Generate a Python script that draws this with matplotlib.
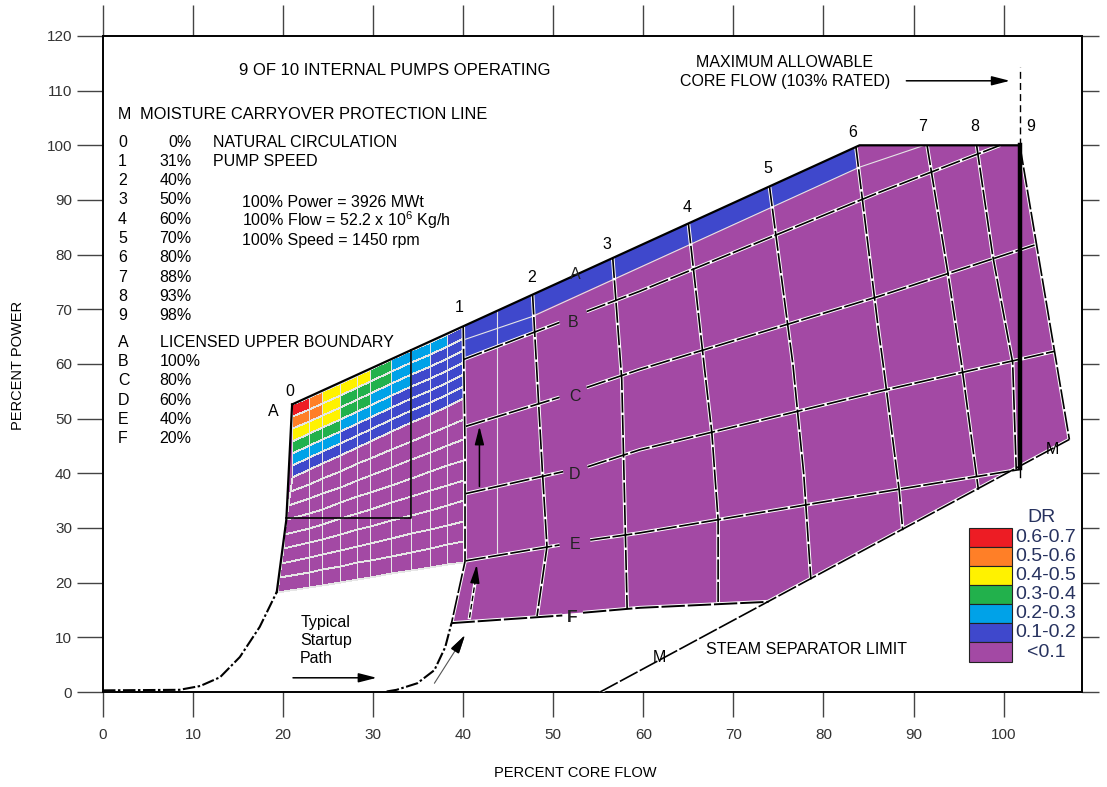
import numpy as np
import matplotlib.pyplot as plt
from matplotlib.colors import ListedColormap, BoundaryNorm
from matplotlib.patches import Polygon, Rectangle

plt.rcParams['font.family'] = ['Liberation Sans', 'DejaVu Sans']
plt.rcParams['mathtext.fontset'] = 'custom'
plt.rcParams['mathtext.rm'] = 'Liberation Sans'

# DR classes, lowest first
dr_labels = ['<0.1', '0.1-0.2', '0.2-0.3', '0.3-0.4', '0.4-0.5', '0.5-0.6', '0.6-0.7']
dr_colors = ['#A349A4', '#3F48CC', '#00A2E8', '#22B14C', '#FFF200', '#FF7F27', '#ED1C24']

# all lines in (percent core flow, percent power)
a_x = [21.0, 84.0, 101.8]            # licensed upper boundary + 100% power
a_y = [52.6, 100.0, 100.0]
e_x = [19.3, 101.8]                  # rod line E (also bottom of low flow block)
e_y = [18.3, 40.4]

region_x = [21.0, 84.0, 101.8, 107.3, 73.9, 59.6, 38.7, 40.2, 19.3, 20.36]
region_y = [52.6, 100.0, 100.0, 46.2, 16.5, 15.4, 12.6, 23.9, 18.3, 31.5]

# low flow grid (natural circulation .. pump line 1)
cell_x = [21.0, 22.9, 24.3, 26.3, 28.2, 29.6, 32.0, 34.2, 36.3, 38.2, 40.0]
dr_top = np.array([
    [6, 5, 4, 4, 4, 3, 2, 2, 2, 1],
    [5, 5, 4, 3, 3, 3, 2, 2, 1, 1],
    [4, 4, 4, 3, 3, 2, 2, 1, 1, 1],
    [3, 3, 3, 2, 2, 2, 1, 1, 1, 1],
    [2, 2, 2, 1, 1, 1, 1, 1, 1, 1],
    [1, 1, 1, 1, 1, 1, 1, 1, 1, 1],
])
dr_low = np.zeros((8, 10), dtype=int)

# DR 0.1-0.2 band along the upper boundary (pump lines 1 to 6)
band_x = [40.0, 83.6, 83.6, 47.7, 47.7, 40.0]
band_y = [66.9, 99.7, 95.7, 68.9, 65.9, 60.8]
band_line_x = [40.2, 47.7, 84.0, 91.2]
band_line_y = [64.5, 68.7, 96.0, 100.0]

# pump speed lines
pump_lines = [
    ([40.0, 40.2, 40.2, 38.7], [66.9, 45.0, 23.9, 12.6]),
    ([47.7, 48.8, 49.3, 48.2], [72.7, 40.1, 26.6, 13.9]),
    ([56.6, 57.6, 58.2], [79.4, 57.2, 15.2]),
    ([65.0, 66.8, 67.6, 68.3, 68.3], [85.7, 59.0, 47.5, 31.5, 16.3]),
    ([74.0, 76.6, 77.8, 78.6], [92.5, 60.0, 40.0, 20.6]),
    ([83.6, 86.1, 86.7, 88.4, 88.8], [99.7, 66.3, 59.0, 37.0, 29.6]),
    ([91.5, 93.8, 95.3, 97.2], [100.0, 76.8, 60.3, 37.0]),
    ([97.0, 98.8, 101.0, 101.4], [100.0, 79.7, 60.3, 40.7]),
]
pump_ids = ['0', '1', '2', '3', '4', '5', '6', '7', '8', '9']
pump_speeds = ['0%', '31%', '40%', '50%', '60%', '70%', '80%', '88%', '93%', '98%']
pump_label_x = [20.75, 39.6, 47.6, 55.9, 64.9, 73.8, 83.2, 91.0, 96.8, 102.5]
pump_label_y = [55.0, 70.4, 75.9, 81.9, 88.7, 95.8, 102.4, 103.5, 103.5, 103.5]
line9_x = 101.8
line9_y = [41.0, 100.0]

# rod lines (nan = gap for the label)
nan = np.nan
rod_lines = {
    'B': ([40.0, 50.7, nan, 53.7, 59.6, 86.2, 99.6], [60.8, 67.6, nan, 69.6, 73.3, 91.4, 100.0]),
    'C': ([40.3, 50.7, nan, 53.7, 59.6, 86.2, 103.7], [48.6, 53.9, nan, 55.7, 59.0, 72.4, 81.9]),
    'D': ([40.3, 51.1, nan, 53.8, 59.6, 86.2, 105.6], [36.3, 40.3, nan, 41.2, 44.3, 55.0, 62.3]),
    'E': ([40.3, 50.7, nan, 54.1, 59.6, 86.2, 101.8], [24.0, 26.9, nan, 27.8, 29.1, 36.5, 40.7]),
    'F': ([38.7, 51.0, nan, 53.3, 59.6, 73.9], [12.6, 14.0, nan, 14.5, 15.4, 16.5]),
}
rod_ids = ['A', 'B', 'C', 'D', 'E', 'F']
rod_desc = ['LICENSED UPPER BOUNDARY', '100%', '80%', '60%', '40%', '20%']
rod_label_x = [52.4, 52.2, 52.4, 52.4, 52.4, 52.1]
rod_label_y = [76.4, 67.6, 54.0, 39.8, 26.9, 13.6]

m_x = [55.2, 107.3]                  # moisture carryover / steam separator limit
m_y = [0.0, 46.2]
right_edge_x = [101.8, 107.3]
right_edge_y = [100.0, 46.2]
left_edge_x = [19.3, 20.36, 21.0]
left_edge_y = [18.3, 31.5, 52.6]
block_x = [20.36, 34.2, 34.2]
block_y = [31.9, 31.9, 62.5]

startup1_x = [0.0, 8.5, 10.8, 13.0, 15.2, 17.4, 19.3]
startup1_y = [0.3, 0.4, 1.1, 2.7, 6.4, 11.9, 18.3]
startup2_x = [31.5, 32.6, 34.9, 36.8, 38.0, 38.7]
startup2_y = [0.1, 0.4, 1.6, 4.0, 8.2, 12.6]


fig = plt.figure(figsize=(11.07, 7.87), dpi=100)
ax = fig.add_axes([0.0930, 0.1207, 0.8844, 0.8336])
ax.set_xlim(0, 108.7)
ax.set_ylim(0, 120)

cmap = ListedColormap(dr_colors)
norm = BoundaryNorm(np.arange(-0.5, 7.5, 1), cmap.N)

ax.add_patch(Polygon(np.column_stack([region_x, region_y]), closed=True,
                     facecolor=dr_colors[0], edgecolor='none', zorder=1))

# curvilinear grid of the low flow block
cells = np.vstack([dr_top, dr_low])
nrow = cells.shape[0]
ntop = dr_top.shape[0]
X = np.tile(np.array(cell_x, float), (nrow + 1, 1))
X[ntop:, 0] = np.interp(np.arange(ntop, nrow + 1), [ntop, nrow], [cell_x[0], e_x[0]])
top = np.interp(X, a_x, a_y)
Y = np.empty_like(X)
row_h = 2.2
for i in range(nrow + 1):
    if i <= ntop:
        Y[i] = top[i] - row_h * i
    else:
        y6 = top[i] - row_h * ntop
        Y[i] = y6 + (np.interp(X[i], e_x, e_y) - y6) * (i - ntop) / (nrow - ntop)
ax.pcolormesh(X, Y, cells, cmap=cmap, norm=norm, edgecolors='#e6e6e6',
              linewidth=0.6, shading='flat', zorder=2)

ax.add_patch(Polygon(np.column_stack([band_x, band_y]), closed=True,
                     facecolor=dr_colors[1], edgecolor='none', zorder=2))
ax.plot(band_line_x, band_line_y, color='#e6e6e6', lw=0.8, zorder=3)
ax.plot([43.7, 43.7], [np.interp(43.7, a_x, a_y), np.interp(43.7, e_x, e_y)],
        color='#e6e6e6', lw=0.8, zorder=3)


def bw_line(x, y, lw=1.2):
    ax.plot(x, y, color='white', lw=lw + 1.4, zorder=4, solid_capstyle='butt')
    ax.plot(x, y, color='black', lw=lw, ls=(0, (12, 1.5)), zorder=5)


for px, py in pump_lines:
    bw_line(px, py)
for k, (rx, ry) in rod_lines.items():
    bw_line(rx, ry, lw=1.4 if k == 'F' else 1.2)
bw_line(m_x, m_y)
bw_line(right_edge_x, right_edge_y)
ax.plot(a_x, a_y, color='black', lw=1.6, zorder=6)
ax.plot(left_edge_x, left_edge_y, color='black', lw=1.6, zorder=6)
ax.plot(block_x, block_y, color='black', lw=1.2, zorder=6)
ax.plot([line9_x, line9_x], line9_y, color='black', lw=3.2, zorder=6)
ax.plot([line9_x, line9_x], [39.4, 41.0], color='black', lw=1, zorder=6)
ax.plot([line9_x, line9_x], [100, 114.3], color='black', lw=1,
        ls=(0, (5, 3)), zorder=6)

for sx, sy in [(startup1_x, startup1_y), (startup2_x, startup2_y)]:
    ax.plot(sx, sy, color='black', lw=1.5, ls=(0, (6, 1.2, 1.2, 1.2)),
            zorder=6, clip_on=False)

# arrows
head = dict(arrowstyle='-|>,head_length=1.1,head_width=0.28', color='black',
            lw=1.1, shrinkA=0, shrinkB=0)
ax.annotate('', xy=(41.8, 48.6), xytext=(41.8, 37.6), arrowprops=head, zorder=7)
ax.plot([40.7, 41.4], [13.6, 21.0], color='white', lw=2.4, zorder=6)
ax.plot([40.7, 41.4], [13.6, 21.0], color='black', lw=1.0, ls=(0, (4, 2)), zorder=6)
ax.annotate('', xy=(41.5, 23.3), xytext=(41.3, 20.0), arrowprops=head, zorder=7)
ax.annotate('', xy=(40.2, 10.4), xytext=(36.8, 1.6),
            arrowprops=dict(head, color='#555555', lw=0.8), zorder=7)
ax.annotate('', xy=(40.2, 10.4), xytext=(39.5, 8.6), arrowprops=head, zorder=7)
ax.annotate('', xy=(30.4, 2.6), xytext=(21.1, 2.6), arrowprops=head, zorder=7)
ax.annotate('', xy=(100.7, 111.8), xytext=(89.2, 111.8), arrowprops=head, zorder=7)

fs = 11.5
# texts
ax.text(32.4, 113.6, '9 OF 10 INTERNAL PUMPS OPERATING', ha='center', va='center', fontsize=12)
ax.text(1.67, 105.7, 'M', ha='left', va='center', fontsize=fs)
ax.text(4.1, 105.7, 'MOISTURE CARRYOVER PROTECTION LINE', ha='left', va='center', fontsize=11.8)
for i, (pid, sp) in enumerate(zip(pump_ids, pump_speeds)):
    yy = 100.6 - 3.53 * i
    ax.text(1.67, yy, pid, ha='left', va='center', fontsize=fs)
    ax.text(9.84, yy, sp, ha='right', va='center', fontsize=fs)
ax.text(12.25, 100.6, 'NATURAL CIRCULATION', ha='left', va='center', fontsize=fs)
ax.text(12.25, 97.1, 'PUMP SPEED', ha='left', va='center', fontsize=fs)
ax.text(15.4, 89.6, '100% Power = 3926 MWt', ha='left', va='center', fontsize=fs)
ax.text(15.4, 86.3, '100% Flow = 52.2 x 10$^6$ Kg/h', ha='left', va='center', fontsize=fs)
ax.text(15.4, 82.6, '100% Speed = 1450 rpm', ha='left', va='center', fontsize=fs)
for i, (rid, rd) in enumerate(zip(rod_ids, rod_desc)):
    yy = 63.9 - 3.5 * i
    ax.text(1.67, yy, rid, ha='left', va='center', fontsize=fs)
    ax.text(6.3, yy, rd, ha='left', va='center', fontsize=fs)

for pid, lx, ly in zip(pump_ids, pump_label_x, pump_label_y):
    ax.text(lx, ly, pid, ha='left' if pid == '9' else 'center', va='center', fontsize=fs, zorder=8)
ax.text(18.9, 51.4, 'A', ha='center', va='center', fontsize=fs, zorder=8)
for rid, lx, ly in zip(rod_ids, rod_label_x, rod_label_y):
    ax.text(lx, ly, rid, ha='center', va='center', fontsize=fs + 1 if rid == 'F' else fs,
            fontweight='bold' if rid == 'F' else 'normal', color='#222222', zorder=8)

ax.text(75.7, 115.2, 'MAXIMUM ALLOWABLE', ha='center', va='center', fontsize=fs)
ax.text(75.7, 111.7, 'CORE FLOW (103% RATED)', ha='center', va='center', fontsize=fs)
ax.text(105.4, 44.3, 'M', ha='center', va='center', fontsize=fs, zorder=8)
ax.text(61.8, 6.4, 'M', ha='center', va='center', fontsize=fs, zorder=8)
ax.text(67.0, 7.7, 'STEAM SEPARATOR LIMIT', ha='left', va='center', fontsize=fs)
for i, word in enumerate(['Typical', 'Startup', 'Path']):
    ax.text(21.9, 12.8 - 3.3 * i, word, ha='left', va='center', fontsize=fs)

# DR legend
navy = '#27325f'
ax.text(104.2, 31.9, 'DR', ha='center', va='center', fontsize=14, color=navy, zorder=9)
box_h = 3.49
for k in range(len(dr_labels)):
    idx = len(dr_labels) - 1 - k
    y0 = 30.0 - box_h * (k + 1)
    ax.add_patch(Rectangle((96.2, y0), 4.7, box_h, facecolor=dr_colors[idx],
                           edgecolor='#222222', lw=0.8, zorder=9))
    ax.text(104.7, y0 + box_h / 2, dr_labels[idx], ha='center', va='center',
            fontsize=14, color=navy, zorder=9)

# axes decoration
ax.set_xticks(np.arange(0, 101, 10))
ax.set_yticks(np.arange(0, 121, 10))
ax.tick_params(direction='out', top=True, right=True, width=1, color='#444444',
               labelsize=11, labelcolor='#333333')
ax.tick_params(axis='x', length=18, pad=8)
ax.tick_params(axis='y', length=18.7, pad=3.5)
for t in ax.xaxis.get_major_ticks():
    t.tick2line.set_markersize(22)
for t in ax.yaxis.get_major_ticks():
    t.tick2line.set_markersize(12)
for s in ax.spines.values():
    s.set_linewidth(1.4)

fig.text(575 / 1107, 1 - 773 / 787, 'PERCENT CORE FLOW', ha='center', va='center', fontsize=10.5)
fig.text(18 / 1107, 1 - 365 / 787, 'PERCENT POWER', ha='center', va='center',
         rotation=90, fontsize=10.5)

fig.savefig('out.png', dpi=100)
